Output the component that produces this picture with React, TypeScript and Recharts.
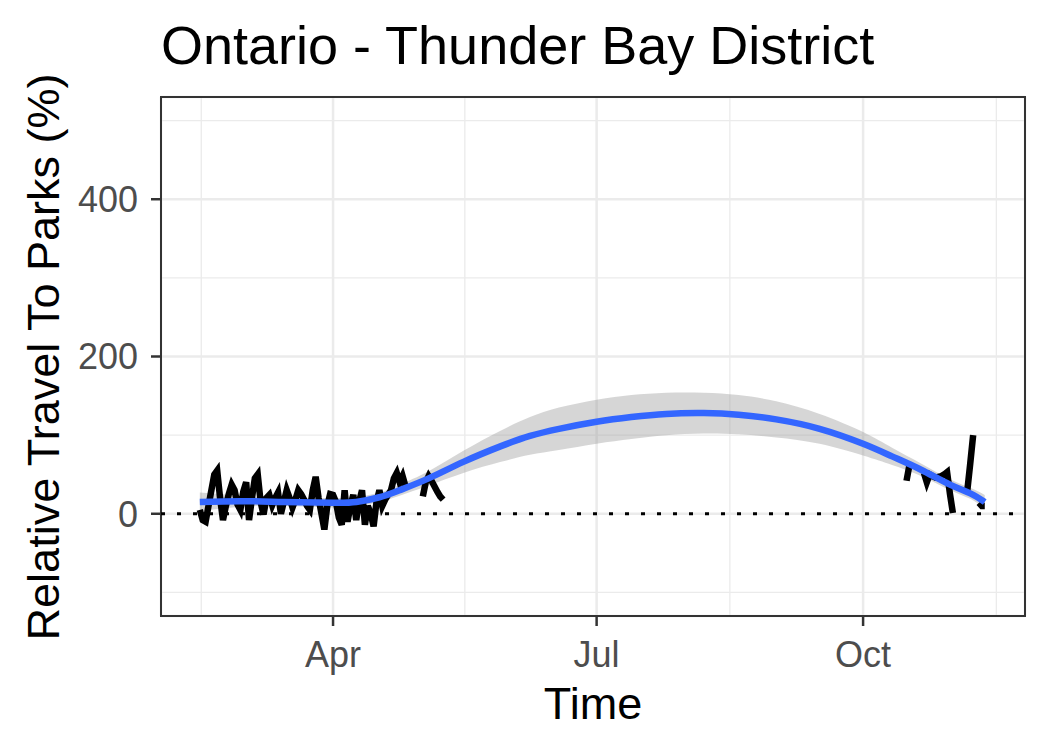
import {
  ComposedChart,
  Line,
  Area,
  XAxis,
  YAxis,
  CartesianGrid,
  ReferenceLine,
  ReferenceArea,
} from "recharts";

// x is day of year (2020): Apr 1 = 92, Jul 1 = 183, Oct 1 = 275
const X_DOMAIN: [number, number] = [32.6, 330.9];
const Y_DOMAIN: [number, number] = [-130, 530];

const xTickDays = [92, 183, 275];
const xTickLabels = ["Apr", "Jul", "Oct"];
const xMinorDays = [46.5, 137.5, 229, 321];
const yTicks = [0, 200, 400];
const yMinor = [-100, 100, 300, 500];

// observed relative travel, in runs of consecutive days
const springStart = 46;
const springValues = [
  5, -8, -10, 10, 30, 50, 55, 20, -8, 10, 25, 37, 30, 12, 5, 28, 40, -8, 20, 45,
  50, 15, -1, 20, 24, 11, 20, 27, 0, 15, 30, 20, 8, 18, 30, 25, 18, 10, 5, 30,
  47, 20, 0, -20, 10, 25, 24, 15, -5, -14, 30, -10, 10, 24, -8, 15, 30, -14, 10, 0,
  -16, 15, 30, 10, 18, 24, 30, 45, 52, 40, 48, 35,
];
const mayStart = 123;
const mayValues = [22, 40, 48, 42, 35, 28, 22, 18];
const octStart = 290;
const octValues = [42, 62];
const novStart = 296;
const novValues = [52, 40, 50, 48, 46, 47, 48, 50, 53, 25, 1];
const peakStart = 311;
const peakValues = [30, 64, 100];
const endStart = 315;
const endValues = [14, 10, 10];

// loess fit with standard error band
const smoothDays = [46, 60, 75, 92, 100, 108, 115, 125, 137, 150, 160, 170, 183, 195, 207, 220, 232, 245, 260, 275, 285, 295, 305, 312, 317];
const smoothFit = [15, 16, 15, 14, 15, 21, 30, 45, 66, 86, 99, 108, 117, 123, 127, 128, 126, 120, 108, 89, 73, 56, 37, 26, 15];
const smoothSe = [12, 7, 5, 6, 6, 6, 7, 9, 14, 20, 24, 27, 28, 28, 27, 26, 25, 23, 19, 15, 11, 8, 7, 7, 9];

const runs: [number, number[]][] = [
  [springStart, springValues],
  [mayStart, mayValues],
  [octStart, octValues],
  [novStart, novValues],
  [peakStart, peakValues],
  [endStart, endValues],
];

const rawData: { day: number; value: number | null }[] = [];
runs.forEach(([start, values]) => {
  values.forEach((v, i) => rawData.push({ day: start + i, value: v }));
  rawData.push({ day: start + values.length, value: null });
});

const smoothData = smoothDays.map((d, i) => ({
  day: d,
  fit: smoothFit[i],
  band: [smoothFit[i] - smoothSe[i], smoothFit[i] + smoothSe[i]],
}));

const FONT = '"Liberation Sans", Arial, Helvetica, sans-serif';

export default function App() {
  return (
    <div style={{ position: "absolute", left: 0, top: 0, width: 1050, height: 750, background: "#fff", fontFamily: FONT }}>
      <ComposedChart width={1050} height={750} margin={{ top: 97, right: 25, bottom: 0, left: 0 }}>
        <CartesianGrid
          stroke="#EBEBEB"
          strokeWidth={1.3}
          horizontalValues={yMinor}
          verticalValues={xMinorDays}
        />
        <CartesianGrid stroke="#EBEBEB" strokeWidth={2.5} />
        <XAxis
          dataKey="day"
          type="number"
          domain={X_DOMAIN}
          allowDataOverflow
          ticks={xTickDays}
          tickFormatter={(v: number) => xTickLabels[xTickDays.indexOf(v)] ?? ""}
          height={134}
          axisLine={false}
          tickSize={10}
          tickMargin={15}
          tickLine={{ stroke: "#333333", strokeWidth: 2.5 }}
          tick={{ fontSize: 36, fill: "#4D4D4D", fontFamily: FONT }}
        />
        <YAxis
          type="number"
          domain={Y_DOMAIN}
          allowDataOverflow
          ticks={yTicks}
          width={161}
          axisLine={false}
          tickSize={10}
          tickMargin={13}
          tickLine={{ stroke: "#333333", strokeWidth: 2.5 }}
          tick={{ fontSize: 36, fill: "#4D4D4D", fontFamily: FONT }}
        />
        <Line
          data={rawData}
          dataKey="value"
          type="linear"
          stroke="#000000"
          strokeWidth={6.5}
          dot={false}
          activeDot={false}
          connectNulls={false}
          isAnimationActive={false}
        />
        <Area
          data={smoothData}
          dataKey="band"
          type="natural"
          stroke="none"
          fill="#999999"
          fillOpacity={0.4}
          isAnimationActive={false}
        />
        <Line
          data={smoothData}
          dataKey="fit"
          type="natural"
          stroke="#3366FF"
          strokeWidth={6.5}
          dot={false}
          activeDot={false}
          isAnimationActive={false}
        />
        <ReferenceLine y={0} stroke="#000000" strokeWidth={3} strokeDasharray="4 12" />
        <ReferenceArea
          x1={X_DOMAIN[0]}
          x2={X_DOMAIN[1]}
          y1={Y_DOMAIN[0]}
          y2={Y_DOMAIN[1]}
          fill="none"
          fillOpacity={0}
          stroke="#333333"
          strokeWidth={2}
        />
      </ComposedChart>
      <svg width={1050} height={750} style={{ position: "absolute", left: 0, top: 0, pointerEvents: "none" }}>
        <text x={161} y={64} fontSize={54} fill="#000" fontFamily={FONT}>
          Ontario - Thunder Bay District
        </text>
        <text x={593} y={719} fontSize={45} fill="#000" textAnchor="middle" fontFamily={FONT}>
          Time
        </text>
        <text
          x={0}
          y={0}
          fontSize={45}
          fill="#000"
          textAnchor="middle"
          fontFamily={FONT}
          transform="translate(59 357) rotate(-90)"
        >
          Relative Travel To Parks (%)
        </text>
      </svg>
    </div>
  );
}
